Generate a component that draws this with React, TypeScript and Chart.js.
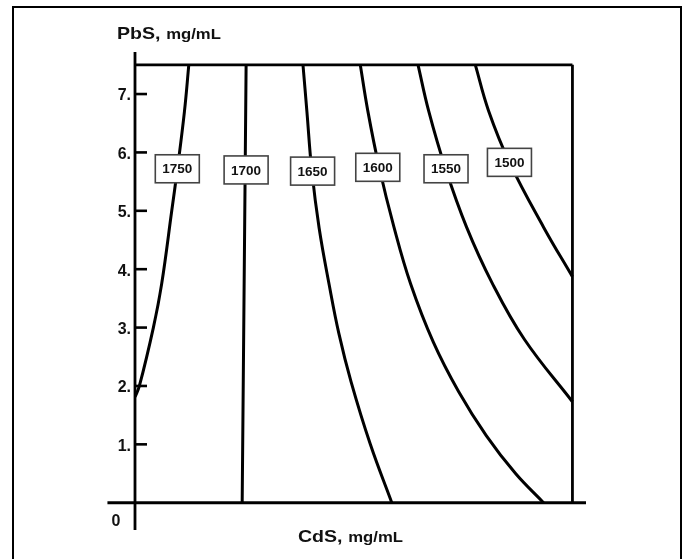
import React, { useEffect, useRef } from "react";
import { Chart, registerables } from "chart.js";

Chart.register(...registerables);

// ---- data ----
const yTicks = [1, 2, 3, 4, 5, 6, 7];
const contourLevels = ["1750", "1700", "1650", "1600", "1550", "1500"];

const c1750x = [0, 0.1, 0.42, 0.61, 0.84, 0.97, 1.13, 1.23];
const c1750y = [1.81, 2.0, 3.0, 3.75, 5.0, 5.72, 6.7, 7.5];
const c1700x = [2.45, 2.54];
const c1700y = [0, 7.5];
const c1650x = [3.84, 3.93, 4.04, 4.21, 4.44, 4.66, 4.94, 5.38, 5.87];
const c1650y = [7.5, 6.7, 5.7, 4.7, 3.73, 2.9, 2.07, 1.0, 0];
const c1600x = [5.15, 5.32, 5.58, 5.92, 6.3, 6.82, 7.4, 8.03, 8.7, 9.34];
const c1600y = [7.5, 6.72, 5.75, 4.72, 3.75, 2.75, 1.9, 1.15, 0.5, 0];
const c1550x = [6.47, 6.71, 7.1, 7.58, 8.16, 8.9, 10];
const c1550y = [7.5, 6.72, 5.72, 4.72, 3.77, 2.8, 1.73];
const c1500x = [7.78, 8.08, 8.56, 9.34, 10];
const c1500y = [7.5, 6.72, 5.83, 4.72, 3.87];

const labelX = [0.967, 2.54, 4.06, 5.55, 7.11, 8.56];
const labelY = [5.72, 5.7, 5.68, 5.745, 5.72, 5.83];

const cdsMax = 10;
const pbsMax = 7.5;
const xMin = 0;
const xMax = 10.31;
const xAxisStart = -0.63;
const yMin = -0.467;
const yMax = 7.72;

const contourXs = [c1750x, c1700x, c1650x, c1600x, c1550x, c1500x];
const contourYs = [c1750y, c1700y, c1650y, c1600y, c1550y, c1500y];

const FONT = '"Liberation Sans", Arial, Helvetica, sans-serif';

const zip = (xs: number[], ys: number[]) => xs.map((x, i) => ({ x, y: ys[i] }));

const decorPlugin = {
  id: "decor",
  afterDatasetsDraw(chart: any) {
    const { ctx, scales, chartArea } = chart;
    const xs = scales.x;
    const ys = scales.y;
    ctx.save();
    // inner tick marks
    ctx.strokeStyle = "#000";
    ctx.lineWidth = 2.6;
    const x0 = xs.getPixelForValue(0);
    yTicks.forEach((v) => {
      const py = ys.getPixelForValue(v);
      ctx.beginPath();
      ctx.moveTo(x0, py);
      ctx.lineTo(x0 + 12, py);
      ctx.stroke();
    });
    // contour label boxes
    contourLevels.forEach((lab, i) => {
      const cx = xs.getPixelForValue(labelX[i]);
      const cy = ys.getPixelForValue(labelY[i]);
      const w = 44;
      const h = 28;
      ctx.fillStyle = "#fff";
      ctx.fillRect(cx - w / 2, cy - h / 2, w, h);
      ctx.strokeStyle = "#444";
      ctx.lineWidth = 1.6;
      ctx.strokeRect(cx - w / 2, cy - h / 2, w, h);
      ctx.fillStyle = "#111";
      ctx.font = `bold 13.5px ${FONT}`;
      ctx.textAlign = "center";
      ctx.textBaseline = "middle";
      ctx.fillText(lab, cx, cy + 1);
    });
    // axis titles (slightly wide lettering as in the original)
    ctx.fillStyle = "#111";
    ctx.textAlign = "left";
    ctx.textBaseline = "alphabetic";
    const sx = 1.15;
    const drawTitle = (big: string, small: string, left: number, base: number) => {
      ctx.save();
      ctx.translate(left, base);
      ctx.scale(sx, 1);
      ctx.font = `bold 17px ${FONT}`;
      ctx.fillText(big, 0, 0);
      const w = ctx.measureText(big).width + 5;
      ctx.font = `bold 14.5px ${FONT}`;
      ctx.fillText(small, w, 0);
      ctx.restore();
    };
    drawTitle("PbS,", "mg/mL", chartArea.left - 18, 39);
    drawTitle("CdS,", "mg/mL", 298, 542);
    // origin label
    ctx.font = `bold 16px ${FONT}`;
    ctx.textAlign = "center";
    ctx.textBaseline = "middle";
    ctx.fillText("0", 116, 522);
    ctx.restore();
  },
};

export default function App() {
  const ref = useRef<HTMLCanvasElement | null>(null);

  useEffect(() => {
    if (!ref.current) return;
    const frameStyle = { borderColor: "#000", borderWidth: 2.8, pointRadius: 0, tension: 0, clip: false as any, showLine: true, fill: false };
    const datasets: any[] = [
      { ...frameStyle, data: [{ x: xAxisStart, y: 0 }, { x: xMax, y: 0 }] },
      { ...frameStyle, data: [{ x: 0, y: yMin }, { x: 0, y: yMax }] },
      { ...frameStyle, data: [{ x: 0, y: pbsMax }, { x: cdsMax, y: pbsMax }] },
      { ...frameStyle, data: [{ x: cdsMax, y: 0 }, { x: cdsMax, y: pbsMax }] },
    ];
    contourLevels.forEach((lab, i) => {
      datasets.push({
        label: lab,
        data: zip(contourXs[i], contourYs[i]),
        showLine: true,
        borderColor: "#000",
        borderWidth: 3,
        pointRadius: 0,
        tension: 0.4,
        fill: false,
      });
    });
    const chart = new Chart(ref.current, {
      type: "scatter",
      data: { datasets },
      options: {
        animation: false,
        responsive: false,
        events: [],
        layout: { padding: { left: 0, right: 97, top: 52, bottom: 29 } },
        plugins: { legend: { display: false }, tooltip: { enabled: false } },
        scales: {
          x: { type: "linear", min: xMin, max: xMax, display: false },
          y: {
            type: "linear",
            min: yMin,
            max: yMax,
            afterFit: (s: any) => {
              s.width = 135;
            },
            afterBuildTicks: (s: any) => {
              s.ticks = yTicks.map((v) => ({ value: v }));
            },
            grid: { display: false, drawTicks: false },
            border: { display: false },
            ticks: {
              padding: 4,
              labelOffset: 2,
              color: "#111",
              font: { family: FONT, size: 16, weight: "bold" },
              callback: (v: any) => `${v}.`,
            },
          },
        },
      },
      plugins: [decorPlugin],
    });
    return () => chart.destroy();
  }, []);

  return (
    <div>
      <canvas
        ref={ref}
        width={683}
        height={559}
        style={{ position: "absolute", left: 0, top: 0, width: 683, height: 559 }}
      />
      <div
        style={{
          position: "absolute",
          left: 12,
          top: 6,
          width: 670,
          height: 553,
          boxSizing: "border-box",
          borderTop: "2px solid #000",
          borderLeft: "2px solid #000",
          borderRight: "2px solid #000",
          pointerEvents: "none",
        }}
      />
    </div>
  );
}
